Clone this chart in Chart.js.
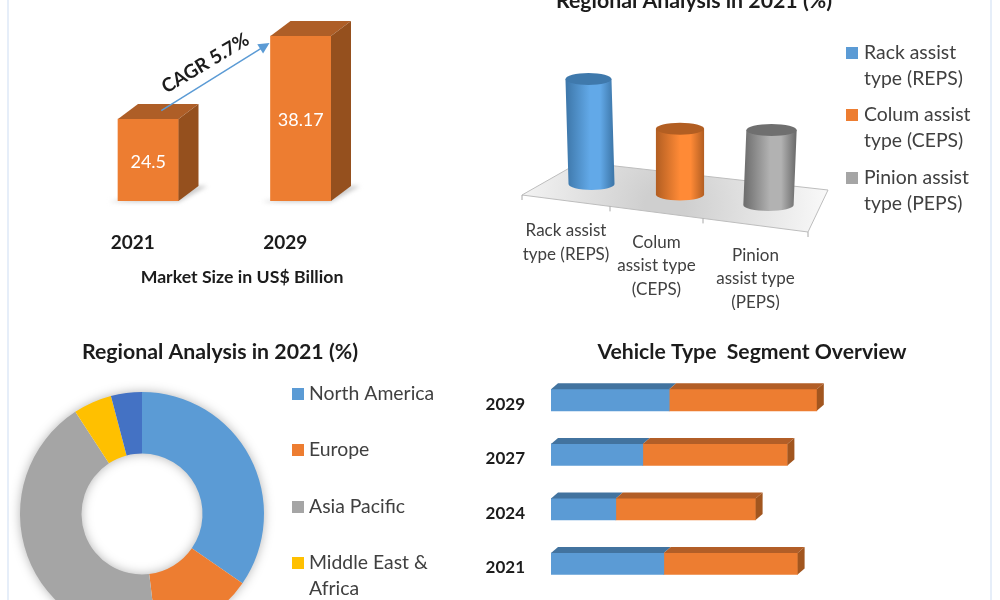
<!DOCTYPE html>
<html>
<head>
<meta charset="utf-8">
<title>Steering market overview</title>
<script src="https://cdn.jsdelivr.net/npm/chart.js@4"></script>
<style>
  html, body { margin: 0; padding: 0; background: #fff; width: 1000px; height: 600px; overflow: hidden; }
  .frame { position: absolute; top: 0; bottom: 0; width: 2px; height: 600px; background: #e6eef9; }
  .panel { position: absolute; }
  .panel canvas { display: block; }
</style>
</head>
<body>
<div class="frame" style="left:7px"></div>
<div class="frame" style="left:990px"></div>
<div class="panel" style="left:70px;top:0;width:344px;height:288px"><canvas id="market"></canvas></div>
<div class="panel" style="left:414px;top:-30px;width:560px;height:340px"><canvas id="steering"></canvas></div>
<div class="panel" style="left:0;top:330px;width:440px;height:306px"><canvas id="regions"></canvas></div>
<div class="panel" style="left:470px;top:330px;width:564px;height:261px"><canvas id="vehicles"></canvas></div>
<script>
// Market size
const marketYears = ['2021', '2029'];
const marketValues = [24.5, 38.17];
const marketCagr = 'CAGR 5.7%';

// Steering type shares
const steeringTicks = [['Rack assist', 'type (REPS)'], ['Colum', 'assist type', '(CEPS)'], ['Pinion', 'assist type', '(PEPS)']];
const steeringKeys = [['Rack assist', 'type (REPS)'], ['Colum assist', 'type (CEPS)'], ['Pinion assist', 'type (PEPS)']];
const steeringShares = [37.5, 23.5, 26.8];

// Regional shares
const regionNames = ['North America', 'Europe', 'Asia Pacific', 'Middle East & Africa', 'South America'];
const regionKeys = [['North America'], ['Europe'], ['Asia Pacific'], ['Middle East &', 'Africa']];
const regionShares = [34.6, 13.5, 42.7, 5.1, 4.1];

// Vehicle type segments
const vehicleYears = ['2021', '2024', '2027', '2029'];
const vehicleFirst = [18.8, 10.8, 15.3, 19.7];
const vehicleSecond = [22.3, 23.3, 24.1, 24.6];

const BLUE = '#5B9BD5', ORANGE = '#ED7D31', GRAY = '#A5A5A5', YELLOW = '#FFC000', ROYAL = '#4472C4';
const FACE = 'Lato, Carlito, sans-serif';
const INK = '#1c1c1c', SOFT_INK = '#404040';

Chart.defaults.font.family = FACE;
Chart.defaults.animation = false;
Chart.defaults.responsive = true;
Chart.defaults.maintainAspectRatio = false;
Chart.defaults.plugins.legend.display = false;
Chart.defaults.plugins.tooltip.enabled = false;

// Titles are centred on the whole canvas rather than on the plot area
Chart.register({
  id: 'canvasCentredTitle',
  afterLayout(chart) {
    if (chart.titleBlock) {
      chart.titleBlock.left = 0;
      chart.titleBlock.right = chart.width;
    }
  }
});

function poly(ctx, points, fill) {
  ctx.beginPath();
  points.forEach((p, i) => (i ? ctx.lineTo(p[0], p[1]) : ctx.moveTo(p[0], p[1])));
  ctx.closePath();
  ctx.fillStyle = fill;
  ctx.fill();
}

// Square swatch plus one or more text lines for each legend row
function drawKey(ctx, rows, colors, o) {
  ctx.save();
  ctx.font = '400 ' + o.size + 'px ' + FACE;
  ctx.textBaseline = 'middle';
  ctx.textAlign = 'left';
  rows.forEach((lines, i) => {
    const y = o.y + i * o.pitch;
    ctx.fillStyle = colors[i];
    ctx.fillRect(o.x, Math.round(y - o.box / 2), o.box, o.box);
    ctx.fillStyle = SOFT_INK;
    lines.forEach((line, j) => ctx.fillText(line, o.textX, y + j * o.lineGap));
  });
  ctx.restore();
}

// Block depth, ground shadow, value labels and growth arrow for the market bars
const marketExtras = {
  id: 'marketExtras',
  beforeDatasetsDraw(chart) {
    const ctx = chart.ctx, dx = 20, dy = 15;
    ctx.save();
    ctx.filter = 'blur(2px)';
    chart.getDatasetMeta(0).data.forEach(el => {
      const l = el.x - el.width / 2, r = el.x + el.width / 2, b = el.base;
      poly(ctx, [[l - 9, b + 1], [r, b + 1], [r + dx + 9, b - dy], [r + dx, b - dy]], '#c9c9c9');
    });
    ctx.restore();
  },
  afterDatasetsDraw(chart) {
    const ctx = chart.ctx, dx = 20, dy = 15;
    const bars = chart.getDatasetMeta(0).data;
    bars.forEach((el, i) => {
      const l = el.x - el.width / 2, r = el.x + el.width / 2;
      poly(ctx, [[l, el.y], [l + dx, el.y - dy], [r + dx, el.y - dy], [r, el.y]], '#AE5E27');
      poly(ctx, [[r, el.y], [r + dx, el.y - dy], [r + dx, el.base - dy], [r, el.base]], '#95501E');
      ctx.save();
      ctx.fillStyle = '#fff';
      ctx.font = '400 18px ' + FACE;
      ctx.textAlign = 'center';
      ctx.textBaseline = 'middle';
      ctx.fillText(String(marketValues[i]), el.x, (el.y + el.base) / 2 + 2);
      ctx.restore();
    });
    // Arrow rises from the top of the first block to the left edge of the second
    const a = bars[0], b = bars[1];
    const x0 = a.x + 13, y0 = a.y - 8.5, x1 = b.x - b.width / 2 - 1, y1 = b.y + 7;
    const ang = Math.atan2(y1 - y0, x1 - x0);
    ctx.save();
    ctx.strokeStyle = BLUE;
    ctx.lineWidth = 1.5;
    ctx.beginPath();
    ctx.moveTo(x0, y0);
    ctx.lineTo(x1 - 8 * Math.cos(ang), y1 - 8 * Math.sin(ang));
    ctx.stroke();
    ctx.translate(x1, y1);
    ctx.rotate(ang);
    poly(ctx, [[0, 0], [-11, -5.5], [-11, 5.5]], BLUE);
    ctx.restore();
    // Rate label runs parallel to the arrow
    ctx.save();
    ctx.translate((x0 + x1) / 2 - 10, (y0 + y1) / 2 - 13.5);
    ctx.rotate(-31 * Math.PI / 180);
    ctx.fillStyle = INK;
    ctx.font = '700 19px ' + FACE;
    ctx.textAlign = 'center';
    ctx.textBaseline = 'middle';
    ctx.fillText(marketCagr, 0, 0);
    ctx.restore();
  }
};

new Chart(document.getElementById('market'), {
  type: 'bar',
  data: { labels: marketYears, datasets: [{ data: marketValues, backgroundColor: ORANGE, barThickness: 60.5, base: 11 }] },
  options: {
    layout: { padding: { left: 2, right: 37, top: 25, bottom: 0 } },
    plugins: {
      title: {
        display: true, position: 'bottom', text: 'Market Size in US$ Billion', color: INK,
        font: { size: 17.7, weight: '700' }, padding: { top: 15, bottom: 0 }
      }
    },
    scales: {
      x: {
        border: { display: false }, grid: { display: false, drawTicks: false },
        ticks: { color: INK, font: { size: 19, weight: '700' }, padding: 31, labelOffset: -15.5, maxRotation: 0 },
        afterFit(scale) { scale.height = 50.8; }
      },
      y: { display: false, min: 11, max: 40 }
    }
  },
  plugins: [marketExtras]
});

// Perspective floor with cylinders, staggered category labels and a wrapped legend
const STEER_SLOPE = 0.117;
const steeringScene = {
  id: 'steeringScene',
  beforeDatasetsDraw(chart) {
    const ctx = chart.ctx, a = chart.chartArea;
    const fl = [a.left - 23, a.bottom + 11], fr = [a.right - 7, a.bottom + 48];
    const br = [a.right + 13, a.bottom + 6], bl = [a.left + 35, a.bottom - 22];
    const glow = ctx.createRadialGradient(a.left + 120, a.bottom + 22, 20, a.left + 120, a.bottom + 22, 170);
    glow.addColorStop(0, '#cfcfcf');
    glow.addColorStop(0.6, '#e9e9e9');
    glow.addColorStop(1, '#fbfbfb');
    poly(ctx, [fl, bl, br, fr], glow);
    ctx.save();
    ctx.strokeStyle = '#bdbdbd';
    ctx.lineWidth = 1;
    ctx.beginPath();
    ctx.moveTo(fl[0], fl[1]); ctx.lineTo(bl[0], bl[1]); ctx.lineTo(br[0], br[1]); ctx.lineTo(fr[0], fr[1]); ctx.closePath();
    ctx.stroke();
    // Front edge ticks and the labels centred between them
    const stops = [0, 88 / 286, 181 / 286, 1].map(t => [fl[0] + (fr[0] - fl[0]) * t, fl[1] + (fr[1] - fl[1]) * t]);
    ctx.strokeStyle = '#a8a8a8';
    ctx.beginPath();
    stops.forEach(s => { ctx.moveTo(s[0], s[1]); ctx.lineTo(s[0], s[1] + 5); });
    ctx.stroke();
    ctx.fillStyle = SOFT_INK;
    ctx.font = '400 17px ' + FACE;
    ctx.textAlign = 'center';
    ctx.textBaseline = 'middle';
    steeringTicks.forEach((lines, i) => {
      const cx = (stops[i][0] + stops[i + 1][0]) / 2, cy = (stops[i][1] + stops[i + 1][1]) / 2 + 30;
      lines.forEach((line, j) => ctx.fillText(line, cx, cy + j * 23.5));
    });
    ctx.restore();
  },
  beforeDatasetDraw() { return false; },
  afterDatasetsDraw(chart) {
    const ctx = chart.ctx;
    const ds = chart.data.datasets[0];
    const els = chart.getDatasetMeta(0).data;
    const first = els[0].x;
    const shades = [
      { edge: '#3F79AC', mid: '#62A9E8', cap: '#3F79AC' },
      { edge: '#B25E22', mid: '#FF8A36', cap: '#B25E22' },
      { edge: '#6F6F6F', mid: '#B2B2B2', cap: '#6F6F6F' }
    ];
    els.forEach((el, i) => {
      const drop = STEER_SLOPE * (el.x - first);
      const rx = 23 + (el.x - first) * 0.012, ry = 6;
      const lean = (el.x - els[1].x) * 0.017;
      const tx = el.x + lean, bx = el.x - lean;
      const ty = el.y + drop, by = el.base + drop;
      const s = shades[i];
      const g = ctx.createLinearGradient(el.x - rx, 0, el.x + rx, 0);
      g.addColorStop(0, s.edge);
      g.addColorStop(0.5, s.mid);
      g.addColorStop(0.72, s.mid);
      g.addColorStop(1, s.edge);
      ctx.save();
      ctx.beginPath();
      ctx.moveTo(tx - rx, ty);
      ctx.lineTo(bx - rx, by);
      ctx.ellipse(bx, by, rx, ry, 0, Math.PI, 0, true);
      ctx.lineTo(tx + rx, ty);
      ctx.closePath();
      ctx.fillStyle = g;
      ctx.fill();
      ctx.beginPath();
      ctx.ellipse(tx, ty, rx, ry, 0, 0, Math.PI * 2);
      ctx.fillStyle = s.cap;
      ctx.fill();
      ctx.restore();
    });
    drawKey(ctx, steeringKeys, ds.backgroundColor, { x: 432, textX: 450, y: 82.5, pitch: 62.5, lineGap: 26, box: 12, size: 19.4 });
  }
};

new Chart(document.getElementById('steering'), {
  type: 'bar',
  data: {
    labels: steeringKeys.map(k => k.join(' ')),
    datasets: [{ data: steeringShares, backgroundColor: [BLUE, ORANGE, GRAY] }]
  },
  options: {
    layout: { padding: { left: 131, right: 159, top: 0, bottom: 126 } },
    plugins: {
      title: {
        display: true, text: 'Regional Analysis in 2021 (%)', color: INK,
        font: { size: 21.3, weight: '700' }, padding: { top: 18.2, bottom: 58.2 }
      }
    },
    scales: { x: { display: false }, y: { display: false, min: 0, max: 40 } }
  },
  plugins: [steeringScene]
});

// Soft halo behind the ring, then the legend to its right
const regionExtras = {
  id: 'regionExtras',
  beforeDatasetsDraw(chart) {
    const ctx = chart.ctx, el = chart.getDatasetMeta(0).data[0];
    ctx.save();
    ctx.shadowColor = 'rgba(0,0,0,0.35)';
    ctx.shadowBlur = 12;
    ctx.fillStyle = '#fff';
    ctx.beginPath();
    ctx.arc(el.x, el.y, el.outerRadius - 1, 0, Math.PI * 2);
    ctx.arc(el.x, el.y, el.innerRadius + 1, 0, Math.PI * 2, true);
    ctx.fill();
    ctx.restore();
  },
  afterDatasetsDraw(chart) {
    drawKey(chart.ctx, regionKeys, chart.data.datasets[0].backgroundColor,
      { x: 292, textX: 309, y: 63.5, pitch: 56.5, lineGap: 26, box: 12, size: 19.4 });
  }
};

new Chart(document.getElementById('regions'), {
  type: 'doughnut',
  data: {
    labels: regionNames,
    datasets: [{ data: regionShares, backgroundColor: [BLUE, ORANGE, GRAY, YELLOW, ROYAL], borderWidth: 0 }]
  },
  options: {
    cutout: '49.6%',
    layout: { padding: { left: 20, right: 176, top: 0, bottom: 0 } },
    plugins: {
      title: {
        display: true, text: 'Regional Analysis in 2021 (%)', color: INK,
        font: { size: 21.3, weight: '700' }, padding: { top: 9.2, bottom: 27.2 }
      }
    }
  },
  plugins: [regionExtras]
});

// Top and end faces for the stacked horizontal bars
const vehicleDepth = {
  id: 'vehicleDepth',
  afterDatasetsDraw(chart) {
    const ctx = chart.ctx, dx = 7, dy = 6;
    const tops = ['#42739F', '#B25E27'];
    chart.data.datasets.forEach((ds, d) => {
      chart.getDatasetMeta(d).data.forEach(el => {
        const t = el.y - el.height / 2, b = el.y + el.height / 2;
        poly(ctx, [[el.base, t], [el.base + dx, t - dy], [el.x + dx, t - dy], [el.x, t]], tops[d]);
        if (d === chart.data.datasets.length - 1) {
          poly(ctx, [[el.x, t], [el.x + dx, t - dy], [el.x + dx, b - dy], [el.x, b]], '#A2561F');
        }
      });
    });
  }
};

new Chart(document.getElementById('vehicles'), {
  type: 'bar',
  data: {
    labels: vehicleYears,
    datasets: [
      { data: vehicleFirst, backgroundColor: BLUE, barThickness: 21.5 },
      { data: vehicleSecond, backgroundColor: ORANGE, barThickness: 21.5 }
    ]
  },
  options: {
    indexAxis: 'y',
    layout: { padding: { left: 0, right: 183, top: 0, bottom: 0 } },
    plugins: {
      title: {
        display: true, text: 'Vehicle Type  Segment Overview', color: INK,
        font: { size: 21.2, weight: '700' }, padding: { top: 9, bottom: 8.4 }
      }
    },
    scales: {
      x: { display: false, stacked: true, min: 0, max: 50 },
      y: {
        stacked: true, reverse: true,
        border: { display: false }, grid: { display: false, drawTicks: true, tickLength: 26 },
        ticks: { color: INK, font: { size: 17, weight: '700' }, padding: 0, labelOffset: 4 },
        afterFit(scale) { scale.width = 81; scale.paddingTop = 0; scale.paddingBottom = 0; }
      }
    }
  },
  plugins: [vehicleDepth]
});
</script>
</body>
</html>
